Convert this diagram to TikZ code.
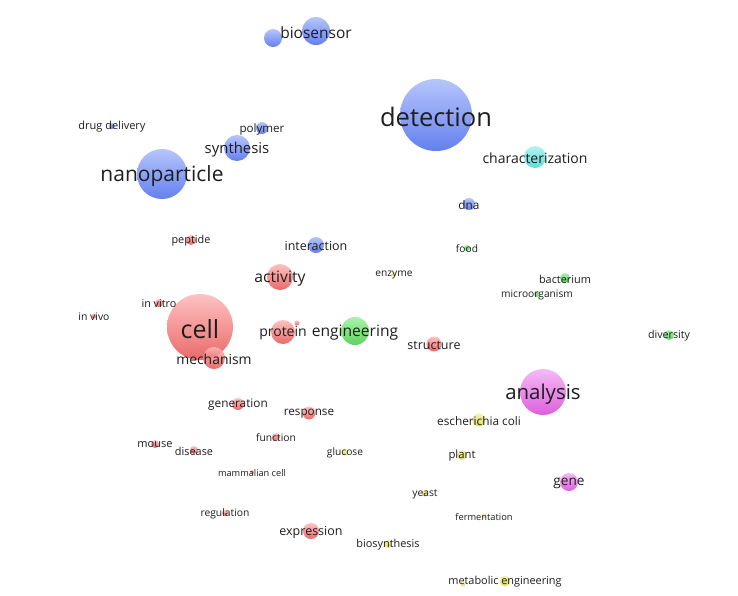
\documentclass[tikz,border=0pt]{standalone}
\usepackage{fontspec}
\newfontfamily\os{Open Sans}
\pgfdeclarelayer{fg}
\pgfsetlayers{main,fg}
\definecolor{blueT}{HTML}{A9BCFB}\definecolor{blueB}{HTML}{4A6AEC}
\definecolor{redT}{HTML}{FFB8B8}\definecolor{redB}{HTML}{E85050}
\definecolor{greenT}{HTML}{9AF29A}\definecolor{greenB}{HTML}{44CC44}
\definecolor{cyanT}{HTML}{A6F2EE}\definecolor{cyanB}{HTML}{44D6D2}
\definecolor{magT}{HTML}{F4AEF4}\definecolor{magB}{HTML}{D844D8}
\definecolor{yelT}{HTML}{F2F2A2}\definecolor{yelB}{HTML}{D8D84A}
\definecolor{txt}{HTML}{1E1E1E}
\tikzset{
  bub/.style={circle,inner sep=0pt,outer sep=0pt,fill opacity=0.85,draw=none},
  bl/.style={top color=blueT,bottom color=blueB},
  rd/.style={top color=redT,bottom color=redB},
  gr/.style={top color=greenT,bottom color=greenB},
  cy/.style={top color=cyanT,bottom color=cyanB},
  mg/.style={top color=magT,bottom color=magB},
  yl/.style={top color=yelT,bottom color=yelB},
  lab/.style={inner sep=0pt,text=txt}
}
\newcommand\kwd[7]{%
  \node[bub,#5,minimum size=#4*2pt] (#1) at (#2,#3) {};
  \begin{pgfonlayer}{fg}
  \node[lab,font=\os\fontsize{#6}{#6}\selectfont,yshift=-#6*0.09pt] (#1-l) at (#1) {#7};
  \end{pgfonlayer}}
\begin{document}
\begin{tikzpicture}[x=1pt,y=-1pt]
\useasboundingbox[fill=white] (0,0) rectangle (738,595);
% unlabeled circles
\node[bub,bl,minimum size=18pt] (bio2) at (273,38) {};
\node[bub,rd,minimum size=5pt] (reddot) at (297,323) {};
\node[bub,yl,minimum size=5pt] (yeldot) at (463,584) {};
% keywords
\kwd{detection}{436}{115}{36}{bl}{25.5}{detection}
\kwd{cell}{200}{327}{33}{rd}{25}{cell}
\kwd{nano}{162}{174}{25}{bl}{21}{nanoparticle}
\kwd{analysis}{543}{392}{23}{mg}{20.4}{analysis}
\kwd{biosensor}{316}{31}{14}{bl}{15.5}{biosensor}
\kwd{engineering}{355}{331}{14}{gr}{15.6}{engineering}
\kwd{synthesis}{237}{148}{13}{bl}{14.9}{synthesis}
\kwd{activity}{280}{277}{13}{rd}{15.7}{activity}
\kwd{protein}{283}{332}{12}{rd}{14}{protein}
\kwd{mechanism}{214}{358}{11}{rd}{13.9}{mechanism}
\kwd{charact}{535}{157}{11}{cy}{14}{characterization}
\kwd{gene}{569}{482}{9}{mg}{13.6}{gene}
\kwd{interaction}{316}{245}{8}{bl}{12.5}{interaction}
\kwd{expression}{311}{531}{8}{rd}{12.5}{expression}
\kwd{structure}{434}{344}{7.5}{rd}{12.5}{structure}
\kwd{polymer}{262}{128}{6}{bl}{11.6}{polymer}
\kwd{dna}{469}{204}{6}{bl}{11.8}{dna}
\kwd{generation}{238}{404}{6}{rd}{11.8}{generation}
\kwd{response}{309}{413}{6.5}{rd}{11.7}{response}
\kwd{ecoli}{479}{420}{6.5}{yl}{11.8}{escherichia coli}
\kwd{metabolic}{505}{581}{5.5}{yl}{10.9}{metabolic engineering}
\kwd{plant}{462}{455}{5}{yl}{11.3}{plant}
\kwd{peptide}{191}{240}{5}{rd}{10.9}{peptide}
\kwd{bacterium}{565}{278}{5}{gr}{10.9}{bacterium}
\kwd{diversity}{669}{335}{5}{gr}{10.7}{diversity}
\kwd{invitro}{159}{303}{4}{rd}{10.8}{in vitro}
\kwd{mouse}{155}{444}{4}{rd}{11}{mouse}
\kwd{disease}{194}{450}{4}{rd}{10.9}{disease}
\kwd{function}{276}{437}{4}{rd}{10.3}{function}
\kwd{biosynthesis}{388}{544}{4}{yl}{10.9}{biosynthesis}
\kwd{druddel}{112}{126}{3}{bl}{11}{drug delivery}
\kwd{food}{467}{248}{3}{gr}{10.2}{food}
\kwd{glucose}{345}{452}{3.5}{yl}{10.2}{glucose}
\kwd{yeast}{425}{493}{3.5}{yl}{10.3}{yeast}
\kwd{regulation}{225}{513}{3}{rd}{10.3}{regulation}
\kwd{microorg}{537}{294}{3}{gr}{10.2}{microorganism}
\kwd{enzyme}{394}{274}{2.5}{yl}{10.2}{enzyme}
\kwd{invivo}{94}{316}{2.5}{rd}{10.4}{in vivo}
\kwd{ferment}{484}{516}{2.5}{yl}{9.3}{fermentation}
\kwd{mammal}{252}{472}{2}{rd}{9.2}{mammalian cell}
\end{tikzpicture}
\end{document}
